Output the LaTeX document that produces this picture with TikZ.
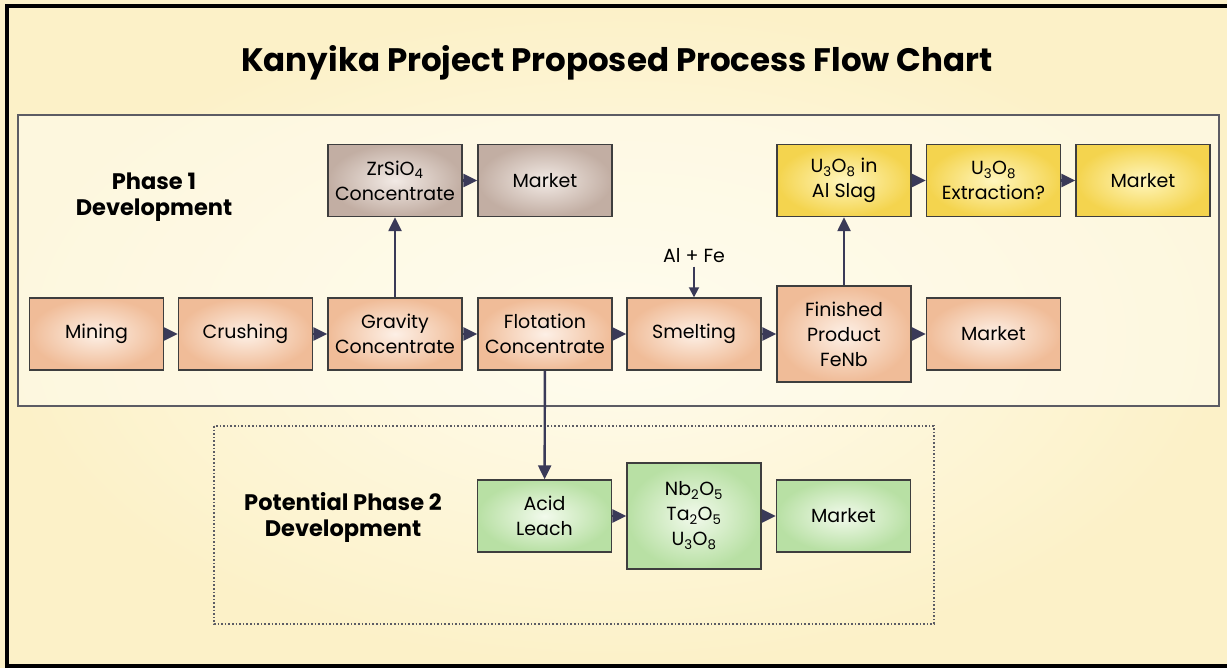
\documentclass[tikz,border=0pt]{standalone}
\usepackage{fontspec}
\setmainfont{Poppins}
\usetikzlibrary{arrows.meta}
\definecolor{cream}{RGB}{252,241,200}
\definecolor{paper}{RGB}{255,252,238}
\definecolor{boxline}{RGB}{62,62,62}
\definecolor{arrowblue}{RGB}{58,58,88}
\definecolor{framegrey}{RGB}{92,92,100}
\definecolor{peachin}{RGB}{253,240,230}
\definecolor{peachout}{RGB}{240,188,152}
\definecolor{brownin}{RGB}{242,234,229}
\definecolor{brownout}{RGB}{194,174,163}
\definecolor{yellowin}{RGB}{255,246,190}
\definecolor{yellowout}{RGB}{244,212,78}
\definecolor{greenin}{RGB}{242,250,236}
\definecolor{greenout}{RGB}{184,224,164}
\begin{document}
\begin{tikzpicture}[x=1pt,y=-1pt, >={Triangle[length=14pt,width=13pt]},
box node/.style={rectangle,draw=boxline,line width=1.4pt,minimum width=134pt,minimum height=72pt,inner sep=0pt,align=center,font=\fontsize{19}{25}\selectfont},
peach node/.style={box node,inner color=peachin,outer color=peachout},
brown node/.style={box node,inner color=brownin,outer color=brownout},
yellow node/.style={box node,inner color=yellowin,outer color=yellowout},
green node/.style={box node,inner color=greenin,outer color=greenout},
head node/.style={align=center,font=\bfseries\fontsize{22.5}{26}\selectfont}]
% background and frames
\useasboundingbox (0,0) rectangle (1227,668);
\fill[cream] (0,0) rectangle (1227,668);
\shade[inner color=paper,outer color=cream] (7,6) rectangle (1227,666);
\draw[framegrey,line width=2pt,fill=paper,fill opacity=.6] (18,115) rectangle (1219,406);
\draw[framegrey,line width=1.6pt,dotted] (214,426) rectangle (934,624);
\draw[black,line width=3.5pt] (1227,6) -- (7,6) -- (7,666) -- (1227,666);
\node[font=\bfseries\fontsize{32.5}{38}\selectfont] (title) at (617,63) {Kanyika Project Proposed Process Flow Chart};
\node[head node] (phase1) at (154,197) {Phase 1\\Development};
\node[head node] (phase2) at (343,517) {Potential Phase 2\\Development};
\begin{scope}
\node[peach node] (mining) at (96.5,334) {Mining};
\node[peach node] (crushing) at (245.5,334) {Crushing};
\node[peach node] (gravity) at (395,334) {Gravity\\Concentrate};
\node[peach node] (flotation) at (545,334) {Flotation\\Concentrate};
\node[peach node] (smelting) at (694,334) {Smelting};
\node[peach node,minimum height=96pt] (finished) at (844,334) {Finished\\Product\\FeNb};
\node[peach node] (market) at (993.5,334) {Market};
\node[brown node] (zircon) at (395,180.5) {ZrSiO\textsubscript{4}\\Concentrate};
\node[brown node] (zmarket) at (545,180.5) {Market};
\node[yellow node] (slag) at (844,180.5) {U\textsubscript{3}O\textsubscript{8} in\\Al Slag};
\node[yellow node] (extract) at (993.5,180.5) {U\textsubscript{3}O\textsubscript{8}\\Extraction?};
\node[yellow node] (umarket) at (1143,180.5) {Market};
\node[green node] (leach) at (544.5,516) {Acid\\Leach};
\node[green node,minimum height=106pt] (oxides) at (694,516) {Nb\textsubscript{2}O\textsubscript{5}\\Ta\textsubscript{2}O\textsubscript{5}\\U\textsubscript{3}O\textsubscript{8}};
\node[green node] (gmarket) at (843.5,516) {Market};
\node[font=\fontsize{19}{22}\selectfont] (alfe) at (694,256) {Al + Fe};
\end{scope}
\begin{scope}[arrowblue,line width=2.4pt]
\draw[->] (mining) -- (crushing);
\draw[->] (crushing) -- (gravity);
\draw[->] (gravity) -- (flotation);
\draw[->] (flotation) -- (smelting);
\draw[->] (smelting) -- (finished);
\draw[->] (finished) -- (market);
\draw[->] (zircon) -- (zmarket);
\draw[->] (slag) -- (extract);
\draw[->] (extract) -- (umarket);
\draw[->] (leach) -- (oxides);
\draw[->] (oxides) -- (gmarket);
\draw[->] (gravity) -- (zircon);
\draw[->] (finished) -- (slag);
\draw[->] (flotation) -- (leach);
\draw[->,line width=1.8pt,>={Triangle[length=10pt,width=10pt]}] (alfe) -- (smelting);
\end{scope}
\end{tikzpicture}
\end{document}
